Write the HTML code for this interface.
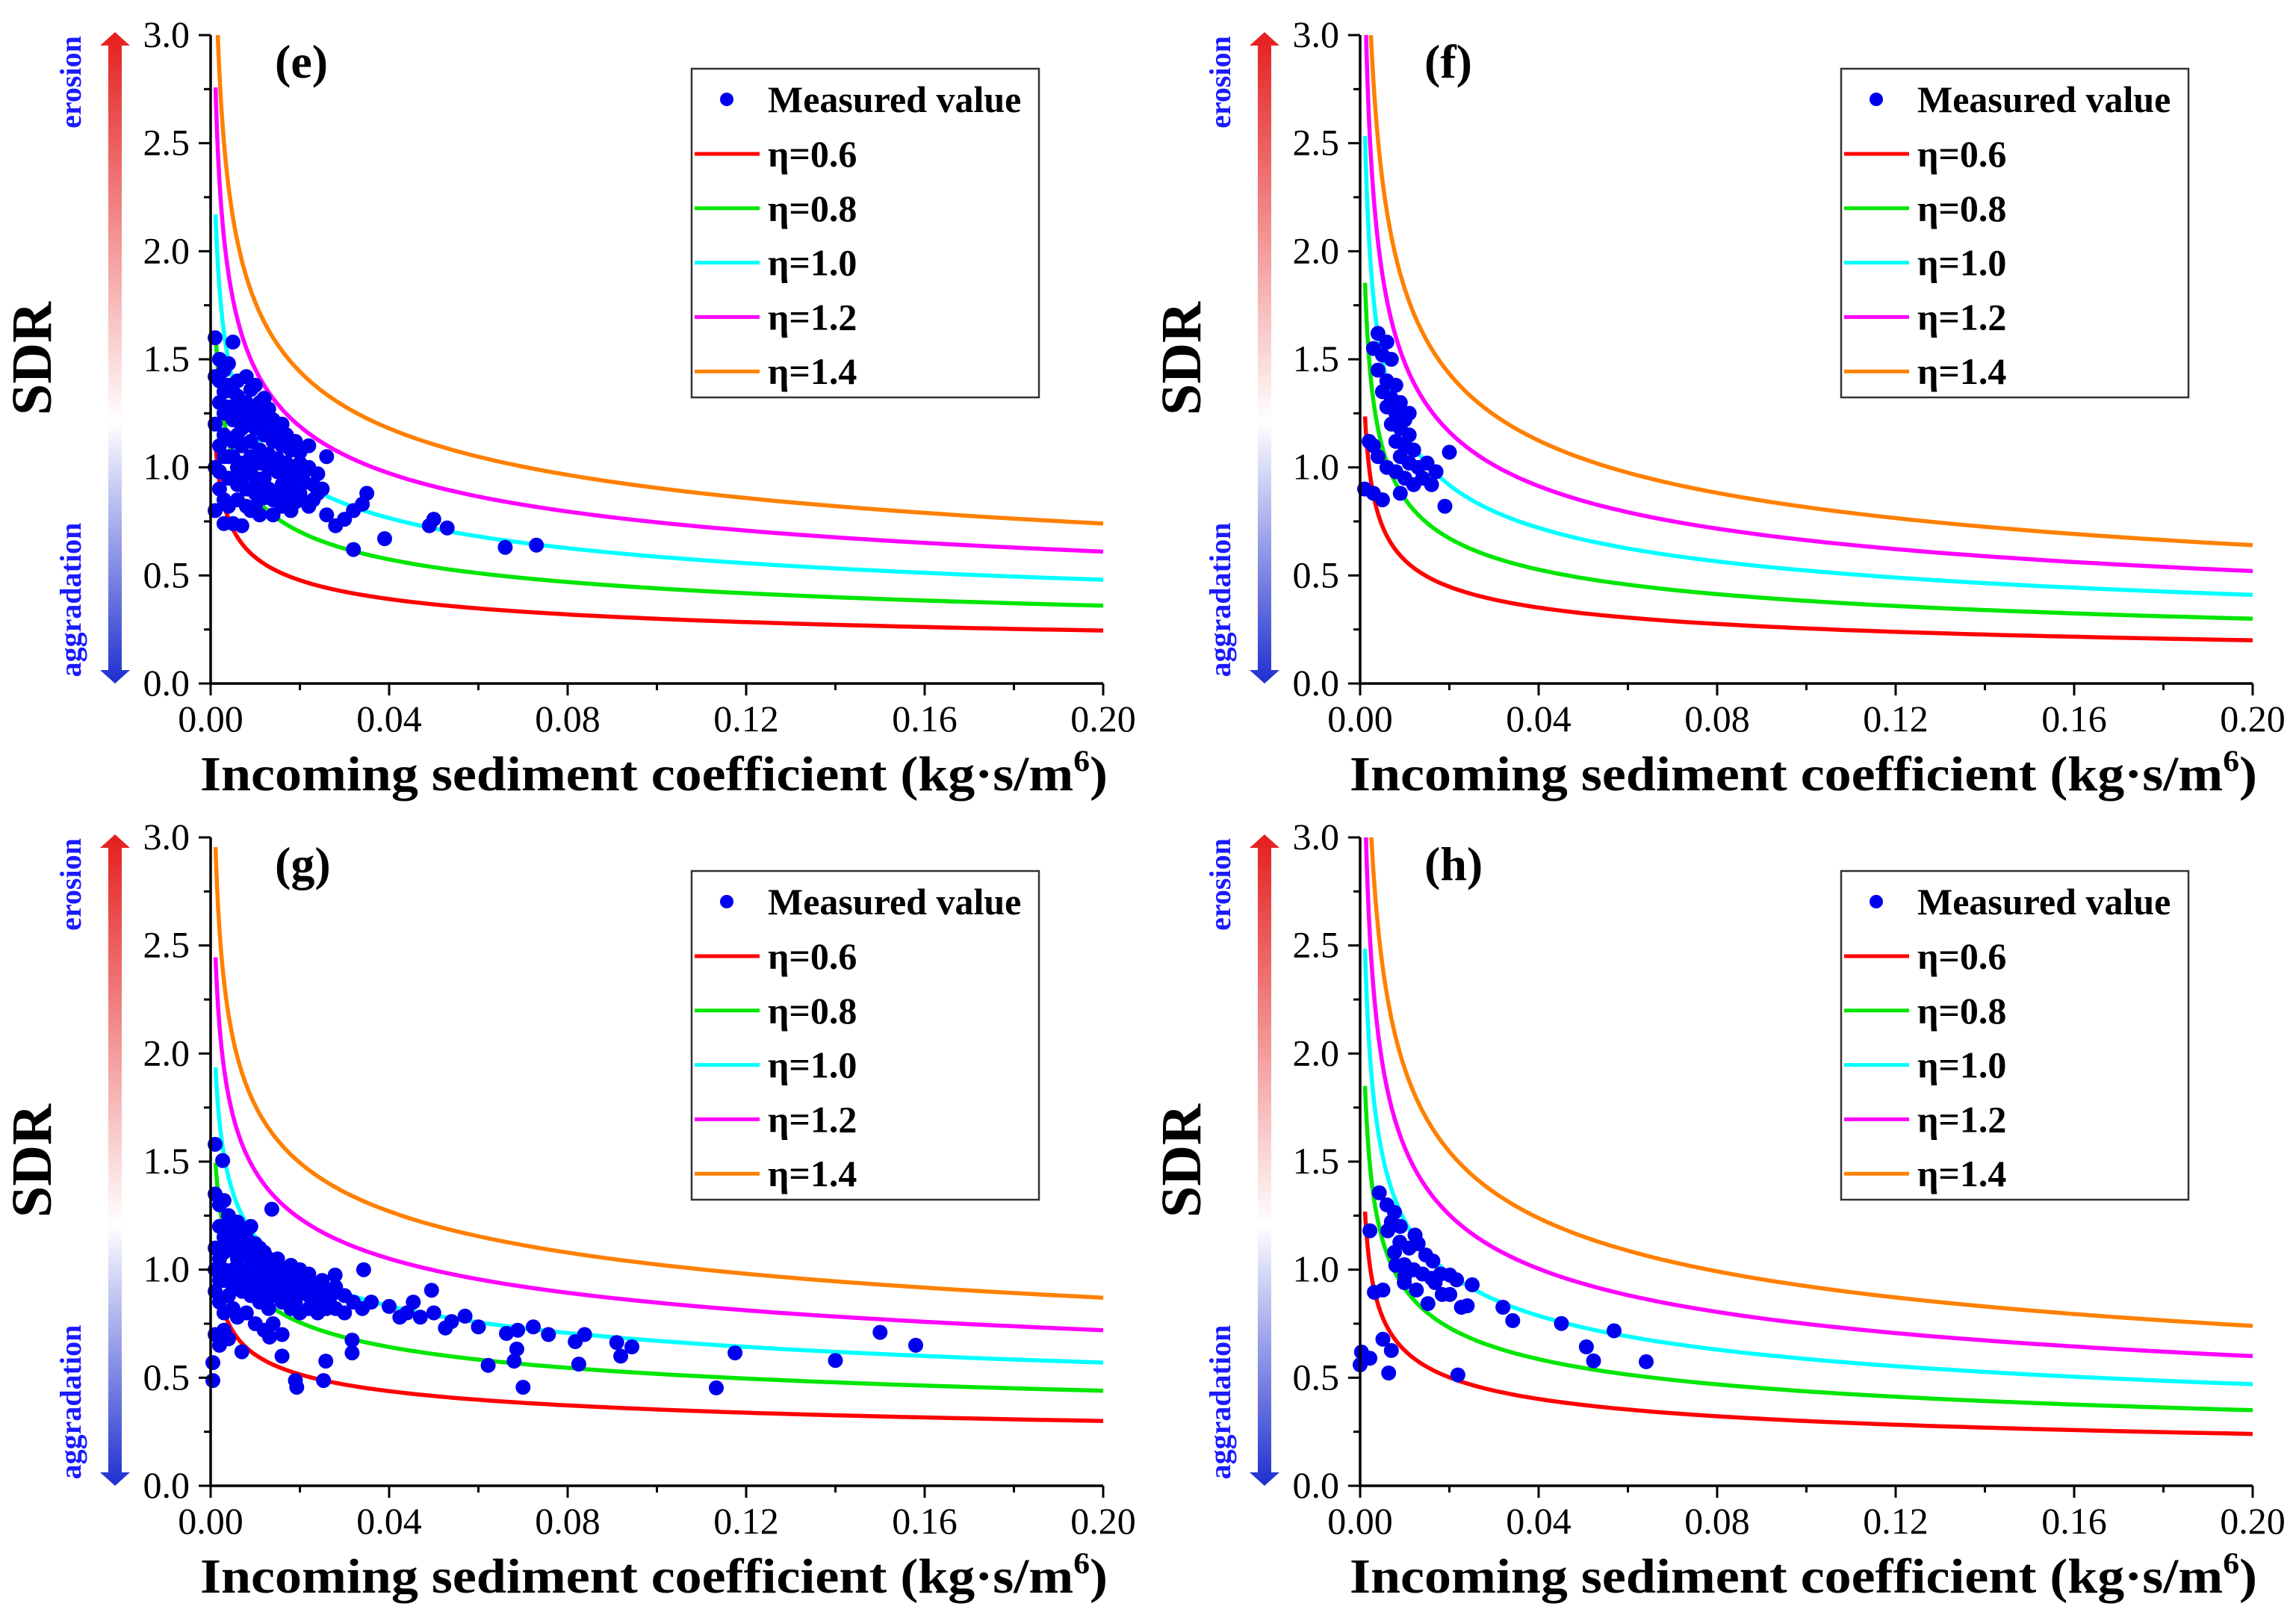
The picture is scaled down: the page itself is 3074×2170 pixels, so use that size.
<!DOCTYPE html>
<html><head><meta charset="utf-8"><title>SDR vs incoming sediment coefficient</title>
<style>html,body{margin:0;padding:0;background:#fff;}svg{display:block;}</style></head>
<body>
<svg id="fig" xmlns="http://www.w3.org/2000/svg" width="3074" height="2170" viewBox="0 0 3074 2170">
<defs>
<linearGradient id="arrowGrad" x1="0" y1="0" x2="0" y2="1">
<stop offset="0" stop-color="#e41e1e"/><stop offset="0.6" stop-color="#ffffff"/><stop offset="1" stop-color="#1f2fcf"/>
</linearGradient>
</defs>
</svg>
<script>
// ---------- data ----------
const panelIds = ['e','f','g','h'];
const etaLabels = ['η=0.6','η=0.8','η=1.0','η=1.2','η=1.4'];
const etaColors = ['#ff0000','#00e600','#00ffff','#ff00ff','#ff8000'];
const xTicks = [0.00,0.04,0.08,0.12,0.16,0.20];
const xTickLabels = ['0.00','0.04','0.08','0.12','0.16','0.20'];
const yTicks = [0.0,0.5,1.0,1.5,2.0,2.5,3.0];
const yTickLabels = ['0.0','0.5','1.0','1.5','2.0','2.5','3.0'];
// SDR of each eta curve at x = 0.20, per panel
const curveEndE = [0.245,0.36,0.48,0.61,0.74];
const curveEndF = [0.20,0.30,0.41,0.52,0.64];
const curveEndG = [0.30,0.44,0.57,0.72,0.87];
const curveEndH = [0.24,0.35,0.47,0.60,0.74];
// decay exponent of curves per panel
const curveExp = [0.29,0.35,0.235,0.32];
const curveXmin = 0.0011;
const pointsE = [[0.001,1.6],[0.002,1.5],[0.001,1.42],[0.003,1.45],[0.005,1.58],[0.004,1.38],[0.006,1.4],[0.008,1.42],[0.01,1.38],[0.012,1.32],[0.002,1.3],[0.004,1.28],[0.006,1.25],[0.008,1.22],[0.01,1.18],[0.012,1.15],[0.014,1.12],[0.016,1.1],[0.018,1.08],[0.02,1.07],[0.022,1.1],[0.026,1.05],[0.001,1.2],[0.003,1.15],[0.005,1.12],[0.007,1.1],[0.009,1.05],[0.011,1.02],[0.013,1.0],[0.015,0.98],[0.017,0.96],[0.019,0.95],[0.021,0.93],[0.023,0.92],[0.025,0.9],[0.001,1.0],[0.002,0.98],[0.004,0.95],[0.006,0.92],[0.008,0.9],[0.01,0.88],[0.012,0.86],[0.014,0.85],[0.016,0.82],[0.018,0.8],[0.02,0.85],[0.022,0.82],[0.024,0.88],[0.026,0.78],[0.028,0.73],[0.03,0.76],[0.032,0.8],[0.034,0.83],[0.035,0.88],[0.032,0.62],[0.039,0.67],[0.05,0.76],[0.049,0.73],[0.053,0.72],[0.066,0.63],[0.073,0.64],[0.001,0.8],[0.003,0.85],[0.005,0.74],[0.003,0.74],[0.007,0.73],[0.009,0.8],[0.011,0.78],[0.014,0.78],[0.002,1.1],[0.004,1.05],[0.006,1.0],[0.008,1.0],[0.01,0.95],[0.012,0.95],[0.007,1.3],[0.009,1.26],[0.011,1.22],[0.013,1.2],[0.015,1.15],[0.005,1.35],[0.003,1.35],[0.007,1.18],[0.009,1.12],[0.011,1.08],[0.013,1.06],[0.015,1.04],[0.017,1.02],[0.019,1.0],[0.021,0.98],[0.016,0.92],[0.018,0.9],[0.02,0.88],[0.002,1.4],[0.004,1.48],[0.006,1.33],[0.008,1.3],[0.009,1.36],[0.011,1.3],[0.013,1.27],[0.014,1.22],[0.016,1.2],[0.017,1.15],[0.019,1.12],[0.02,1.02],[0.022,1.0],[0.024,0.97],[0.003,1.25],[0.005,1.22],[0.007,1.02],[0.009,0.97],[0.011,0.92],[0.013,0.9],[0.015,0.88],[0.017,0.86],[0.019,0.84],[0.006,0.85],[0.008,0.82],[0.01,0.82],[0.004,0.82],[0.002,0.9],[0.003,1.05],[0.005,1.05],[0.007,0.95],[0.006,1.15],[0.012,1.25],[0.023,0.85]];
const pointsF = [[0.004,1.62],[0.006,1.58],[0.003,1.55],[0.005,1.52],[0.007,1.5],[0.004,1.45],[0.006,1.4],[0.008,1.38],[0.005,1.35],[0.007,1.32],[0.009,1.3],[0.006,1.28],[0.008,1.25],[0.01,1.22],[0.007,1.2],[0.009,1.18],[0.011,1.15],[0.008,1.12],[0.01,1.1],[0.012,1.08],[0.009,1.05],[0.011,1.02],[0.013,1.0],[0.015,1.02],[0.014,0.95],[0.016,0.92],[0.012,0.92],[0.01,0.95],[0.008,0.98],[0.006,1.0],[0.004,1.05],[0.002,1.12],[0.001,0.9],[0.003,0.88],[0.005,0.85],[0.009,0.88],[0.02,1.07],[0.019,0.82],[0.017,0.98],[0.011,1.25],[0.003,1.1]];
const pointsG = [[0.0495,0.905],[0.0343,1.0],[0.0279,0.975],[0.0137,1.28],[0.001,1.58],[0.0027,1.505],[0.0454,0.85],[0.0424,0.78],[0.0526,0.73],[0.057,0.785],[0.06,0.735],[0.0663,0.705],[0.0688,0.72],[0.0723,0.735],[0.0757,0.7],[0.0817,0.667],[0.0838,0.7],[0.091,0.663],[0.0944,0.643],[0.0919,0.6],[0.1175,0.615],[0.0686,0.633],[0.0825,0.563],[0.068,0.577],[0.0622,0.557],[0.07,0.456],[0.1133,0.453],[0.0317,0.674],[0.0317,0.615],[0.0258,0.577],[0.0253,0.487],[0.019,0.487],[0.0193,0.456],[0.016,0.6],[0.0132,0.688],[0.007,0.62],[0.0005,0.487],[0.0005,0.57],[0.14,0.58],[0.15,0.71],[0.158,0.65],[0.001,1.35],[0.002,1.3],[0.003,1.32],[0.004,1.25],[0.005,1.2],[0.006,1.22],[0.007,1.18],[0.008,1.15],[0.009,1.2],[0.01,1.12],[0.011,1.1],[0.012,1.08],[0.013,1.05],[0.014,1.02],[0.015,1.05],[0.016,1.0],[0.017,0.98],[0.018,1.02],[0.019,0.96],[0.02,1.0],[0.021,0.95],[0.022,0.98],[0.023,0.93],[0.024,0.9],[0.025,0.95],[0.026,0.9],[0.027,0.88],[0.028,0.92],[0.03,0.88],[0.032,0.85],[0.001,1.1],[0.002,1.05],[0.003,1.0],[0.004,1.1],[0.005,1.0],[0.006,1.05],[0.007,0.98],[0.008,1.0],[0.009,0.95],[0.01,0.98],[0.011,0.92],[0.012,0.95],[0.013,0.9],[0.014,0.88],[0.015,0.9],[0.016,0.85],[0.017,0.88],[0.018,0.82],[0.019,0.85],[0.02,0.8],[0.022,0.82],[0.024,0.8],[0.001,0.9],[0.002,0.85],[0.003,0.8],[0.004,0.88],[0.005,0.82],[0.006,0.78],[0.008,0.8],[0.01,0.75],[0.012,0.72],[0.014,0.75],[0.016,0.7],[0.001,0.7],[0.002,0.65],[0.003,0.72],[0.004,0.68],[0.002,1.2],[0.004,1.18],[0.006,1.15],[0.008,1.08],[0.01,1.05],[0.012,1.02],[0.003,0.95],[0.005,0.92],[0.007,0.9],[0.009,0.88],[0.011,0.85],[0.013,0.82],[0.018,0.92],[0.02,0.9],[0.022,0.88],[0.026,0.84],[0.028,0.82],[0.03,0.8],[0.034,0.82],[0.036,0.85],[0.04,0.83],[0.044,0.8],[0.047,0.78],[0.05,0.8],[0.054,0.76],[0.003,1.15],[0.005,1.1],[0.007,1.08],[0.009,1.05],[0.011,1.0],[0.013,0.97],[0.015,0.95],[0.017,0.93],[0.019,0.91],[0.021,0.9],[0.023,0.87],[0.025,0.86],[0.002,0.95],[0.004,0.98],[0.006,0.95],[0.008,0.92],[0.01,0.9],[0.012,0.88],[0.014,0.95],[0.016,0.92],[0.018,0.95],[0.02,0.93],[0.022,0.92],[0.024,0.85],[0.026,0.82],[0.001,1.0],[0.003,1.08],[0.005,1.15],[0.007,1.1],[0.009,1.1]];
const pointsH = [[0.0043,1.356],[0.0077,1.265],[0.0022,1.18],[0.0123,1.16],[0.0062,1.18],[0.0089,1.127],[0.0147,1.068],[0.0163,1.04],[0.0077,1.08],[0.0099,1.023],[0.0201,0.975],[0.0251,0.93],[0.0216,0.953],[0.0168,0.94],[0.0126,0.906],[0.0099,0.94],[0.0051,0.906],[0.0032,0.895],[0.0184,0.885],[0.0201,0.885],[0.0152,0.843],[0.0227,0.826],[0.024,0.833],[0.032,0.826],[0.0342,0.764],[0.0451,0.751],[0.0569,0.717],[0.0507,0.643],[0.0523,0.578],[0.0641,0.574],[0.0051,0.678],[0.007,0.626],[0.0064,0.522],[0.0219,0.513],[0.0003,0.619],[0.0022,0.59],[0.0,0.56],[0.006,1.3],[0.007,1.22],[0.009,1.2],[0.011,1.1],[0.012,1.0],[0.008,1.02],[0.014,0.98],[0.016,0.96],[0.018,0.98],[0.01,0.97],[0.013,1.12]];

const curveEnds = [curveEndE,curveEndF,curveEndG,curveEndH];
const pointSets = [pointsE,pointsF,pointsG,pointsH];
const offsets = [[0,0],[1539,0],[0,1074],[1539,1074]];

const NS = 'http://www.w3.org/2000/svg';
const svg = document.getElementById('fig');
function mk(tag, attrs, parent){const e=document.createElementNS(NS,tag);for(const k in attrs)e.setAttribute(k,attrs[k]);(parent||svg).appendChild(e);return e;}
const SERIF = '"Liberation Serif", serif';

panelIds.forEach((pid, pi) => {
  const [dx,dy] = offsets[pi];
  const X0 = 282+dx, X1 = 1477+dx, Y0 = 915+dy, Y3 = 47+dy;
  const sx = v => X0 + (v/0.2)*(X1-X0);
  const sy = v => Y0 - (v/3)*(Y0-Y3);
  const g = mk('g', {});
  
  

  const cp = mk('clipPath', {id:'clip'+pid}, g);
  mk('rect', {x:X0, y:Y3, width:X1-X0+10, height:Y0-Y3}, cp);

  const ar = mk('path', {d:`M${154+dx},${43+dy} L${174+dx},${61+dy} L${163+dx},${61+dy} L${163+dx},${897+dy} L${174+dx},${897+dy} L${154+dx},${915+dy} L${134+dx},${897+dy} L${145+dx},${897+dy} L${145+dx},${61+dy} L${134+dx},${61+dy} Z`, fill:'url(#arrowGrad)'}, g);
  
  
  const er = mk('text', {x:0,y:0, transform:`translate(${108+dx},${110+dy}) rotate(-90)`, 'text-anchor':'middle', 'font-family':SERIF, 'font-weight':'bold', 'font-size':40, fill:'#1a1aff'}, g);
  er.textContent = 'erosion';
  
  
  const ag = mk('text', {x:0,y:0, transform:`translate(${108+dx},${803+dy}) rotate(-90)`, 'text-anchor':'middle', 'font-family':SERIF, 'font-weight':'bold', 'font-size':40, fill:'#1a1aff'}, g);
  ag.textContent = 'aggradation';
  
  

  const sdr = mk('text', {x:0,y:0, transform:`translate(${68+dx},${480+dy}) rotate(-90)`, 'text-anchor':'middle', 'font-family':SERIF, 'font-weight':'bold', 'font-size':76, fill:'#000'}, g);
  sdr.textContent = 'SDR';
  
  

  const ends = curveEnds[pi], b = curveExp[pi];
  ends.forEach((endVal, ci) => {
    let d = '';
    const N = 160;
    for (let i=0;i<=N;i++){
      const x = curveXmin*Math.pow(0.2/curveXmin, i/N);
      const y = endVal*Math.pow(0.2/x, b);
      d += (i?'L':'M') + sx(x).toFixed(1) + ',' + sy(Math.min(y,3.2)).toFixed(1);
    }
    const p = mk('path', {d, fill:'none', stroke:etaColors[ci], 'stroke-width':5.5, 'clip-path':`url(#clip${pid})`}, g);
    
    
  });

  pointSets[pi].forEach(pt => {
    const c = mk('circle', {cx:sx(pt[0]).toFixed(1), cy:sy(pt[1]).toFixed(1), r:10, fill:'#0000ee'}, g);
    
    
  });

  const ax = mk('path', {d:`M${X0},${Y3} L${X0},${Y0} L${X1},${Y0}`, fill:'none', stroke:'#000', 'stroke-width':3.5}, g);
  
  
  yTicks.forEach((v, i) => {
    const t = mk('line', {x1:X0-16, x2:X0, y1:sy(v), y2:sy(v), stroke:'#000', 'stroke-width':3}, g);
    
    
    if (i < yTicks.length-1) {
      const m = mk('line', {x1:X0-9, x2:X0, y1:sy(v+0.25), y2:sy(v+0.25), stroke:'#000', 'stroke-width':3}, g);
      
      
    }
    const l = mk('text', {x:X0-28, y:sy(v)+16, 'text-anchor':'end', 'font-family':SERIF, 'font-size':50, fill:'#000'}, g);
    l.textContent = yTickLabels[i];
    
    
  });
  xTicks.forEach((v, i) => {
    const t = mk('line', {x1:sx(v), x2:sx(v), y1:Y0, y2:Y0+16, stroke:'#000', 'stroke-width':3}, g);
    
    
    if (i < xTicks.length-1) {
      const m = mk('line', {x1:sx(v+0.02), x2:sx(v+0.02), y1:Y0, y2:Y0+9, stroke:'#000', 'stroke-width':3}, g);
      
      
    }
    const l = mk('text', {x:sx(v), y:Y0+64, 'text-anchor':'middle', 'font-family':SERIF, 'font-size':50, fill:'#000'}, g);
    l.textContent = xTickLabels[i];
    
    
  });
  const xt = mk('text', {x:268+dx, y:1058+dy, 'font-family':SERIF, 'font-weight':'bold', 'font-size':66, fill:'#000', textLength:1215, lengthAdjust:'spacingAndGlyphs'}, g);
  xt.innerHTML = 'Incoming sediment coefficient (kg·s/m<tspan dy="-26" font-size="40">6</tspan><tspan dy="26">)</tspan>';
  
  

  const pl = mk('text', {x:368+dx, y:104+dy, 'font-family':SERIF, 'font-weight':'bold', 'font-size':64, fill:'#000'}, g);
  pl.textContent = '('+pid+')';
  
  

  const lg = mk('g', {}, g);
  
  
  mk('rect', {x:926+dx, y:92+dy, width:465, height:440, fill:'#fff', stroke:'#333', 'stroke-width':2.5}, lg);
  const ld = mk('circle', {cx:973+dx, cy:133+dy, r:9, fill:'#0000ee'}, lg);
  
  
  const lt = mk('text', {x:1028+dx, y:150+dy, 'font-family':SERIF, 'font-weight':'bold', 'font-size':50, fill:'#000'}, lg);
  lt.textContent = 'Measured value';
  
  
  etaLabels.forEach((lab, ci) => {
    const yy = 206 + ci*72.8 + dy;
    const ln = mk('line', {x1:930+dx, x2:1017+dx, y1:yy, y2:yy, stroke:etaColors[ci], 'stroke-width':5}, lg);
    
    
    const tx = mk('text', {x:1028+dx, y:yy+17, 'font-family':SERIF, 'font-weight':'bold', 'font-size':50, fill:'#000'}, lg);
    tx.textContent = lab;
    
    
  });
});
</script>
</body></html>
